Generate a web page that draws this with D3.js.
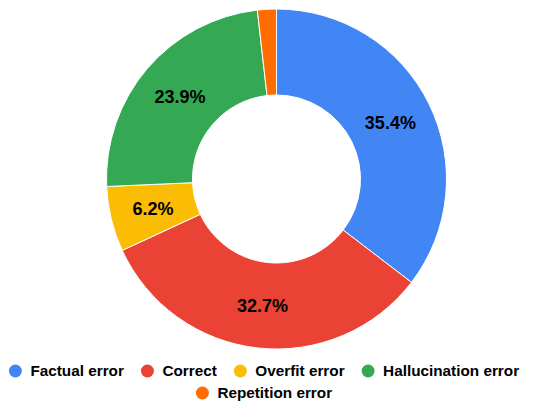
<!DOCTYPE html>
<html>
<head>
<meta charset="utf-8">
<script src="https://cdn.jsdelivr.net/npm/d3@7"></script>
<style>
  body { margin: 0; background: #fff; }
  svg { display: block; font-family: "Liberation Sans", Arial, sans-serif; }
</style>
</head>
<body>
<div id="chart"></div>
<script>
const width = 548, height = 403;

const categories = ["Factual error", "Correct", "Overfit error", "Hallucination error", "Repetition error"];
const values = [35.4, 32.7, 6.2, 23.9, 1.8];
const colors = ["#4285F4", "#EA4335", "#FBBC04", "#34A853", "#FF6D01"];

const cx = 276.5, cy = 179, outerR = 170, innerR = 84;

const data = categories.map((c, i) => ({ name: c, value: values[i] }));
const total = d3.sum(values);

const color = d3.scaleOrdinal().domain(categories).range(colors);

const svg = d3.select("#chart").append("svg")
    .attr("width", width)
    .attr("height", height);

const pie = d3.pie().sort(null).value(d => d.value);
const arc = d3.arc().innerRadius(innerR).outerRadius(outerR);
const labelArc = d3.arc().innerRadius((innerR + outerR) / 2).outerRadius((innerR + outerR) / 2);

const g = svg.append("g").attr("transform", `translate(${cx},${cy})`);

const slices = pie(data);

g.selectAll("path")
    .data(slices)
    .enter().append("path")
    .attr("d", arc)
    .attr("fill", d => color(d.data.name))
    .attr("stroke", "#fff")
    .attr("stroke-width", 1);

// labels only for slices big enough
g.selectAll("text")
    .data(slices.filter(d => d.data.value / total > 0.05))
    .enter().append("text")
    .attr("transform", d => `translate(${labelArc.centroid(d)})`)
    .attr("text-anchor", "middle")
    .attr("dy", "0.35em")
    .attr("font-size", 18)
    .attr("font-weight", "bold")
    .attr("fill", "#000")
    .text(d => (d.data.value / total * 100).toFixed(1) + "%");

// legend, wrapped into centred rows
const legendCenter = 264, rowY = [371, 393], maxW = 530;
const itemGap = 17, dotR = 6.5, textOff = 15;

const legend = svg.append("g").attr("font-size", 15.3).attr("font-weight", "bold");
const measure = legend.append("text").attr("visibility", "hidden");
const items = categories.map(c => {
    measure.text(c);
    return { name: c, w: textOff + measure.node().getComputedTextLength() };
});
measure.remove();

const rows = [[]];
let cur = 0;
items.forEach(it => {
    const add = (rows[rows.length - 1].length ? itemGap : 0) + it.w + dotR;
    if (cur + add > maxW && rows[rows.length - 1].length) {
        rows.push([]);
        cur = 0;
    }
    cur += (rows[rows.length - 1].length ? itemGap : 0) + it.w + dotR;
    rows[rows.length - 1].push(it);
});

rows.forEach((row, r) => {
    const rowW = d3.sum(row, d => d.w + dotR) + itemGap * (row.length - 1);
    let x = legendCenter - rowW / 2;
    row.forEach(it => {
        const item = legend.append("g").attr("transform", `translate(${x + dotR},${rowY[r]})`);
        item.append("circle").attr("r", dotR).attr("fill", color(it.name));
        item.append("text")
            .attr("x", textOff)
            .attr("dy", "0.35em")
            .attr("fill", "#000")
            .text(it.name);
        x += it.w + dotR + itemGap;
    });
});
</script>
</body>
</html>
